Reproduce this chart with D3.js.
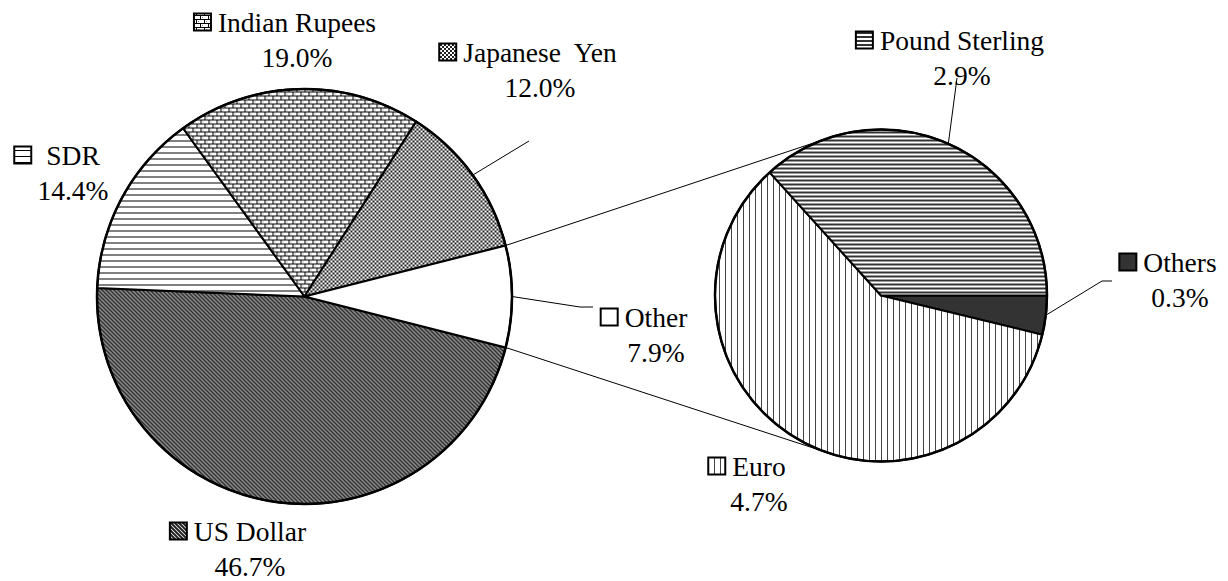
<!DOCTYPE html>
<html>
<head>
<meta charset="utf-8">
<script src="https://cdn.jsdelivr.net/npm/d3@7"></script>
<style>
  body { margin: 0; background: #fff; }
  text { font-size: 27.5px; white-space: pre; fill: #000; }
</style>
</head>
<body>
<svg id="chart" width="1228" height="581"></svg>
<script>
// main pie, listed clockwise starting after the "Other" slice
var mainNames = ["US Dollar", "SDR", "Indian Rupees", "Japanese  Yen", "Other"];
var mainShares = [46.7, 14.4, 19.0, 12.0, 7.9];
// split of "Other", clockwise from 3 o'clock
var subNames = ["Others", "Euro", "Pound Sterling"];
var subShares = [0.3, 4.7, 2.9];

var serif = "'Liberation Serif', 'Times New Roman', Tinos, 'DejaVu Serif', serif";

var svg = d3.select("#chart");
var defs = svg.append("defs");

function pattern(id, w, h, draw) {
  var p = defs.append("pattern").attr("id", id)
    .attr("patternUnits", "userSpaceOnUse")
    .attr("width", w).attr("height", h);
  p.append("rect").attr("width", w).attr("height", h).attr("fill", "#fff");
  draw(p);
}
pattern("usd", 4, 4, function(p) {
  p.append("path").attr("d", "M-1,-1L5,5M-1,3L1,5M3,-1L5,1")
    .attr("stroke", "#222").attr("stroke-width", 2);
});
pattern("sdr", 6, 6, function(p) {
  p.append("line").attr("x1", 0).attr("x2", 6).attr("y1", 0.5).attr("y2", 0.5)
    .attr("stroke", "#000").attr("stroke-width", 1);
});
pattern("inr", 8, 8, function(p) {
  p.append("path").attr("d", "M0,3.5H8M0,7.5H8M0.5,0V3.5M4.5,4V7.5")
    .attr("stroke", "#000").attr("stroke-width", 1).attr("fill", "none");
  p.append("rect").attr("x", 2).attr("y", 1).attr("width", 1).attr("height", 1).attr("fill", "#888");
  p.append("rect").attr("x", 6).attr("y", 5).attr("width", 1).attr("height", 1).attr("fill", "#888");
});
pattern("jpy", 4, 4, function(p) {
  p.append("rect").attr("x", 0).attr("y", 0).attr("width", 2).attr("height", 2).attr("fill", "#222");
  p.append("rect").attr("x", 2).attr("y", 2).attr("width", 2).attr("height", 2).attr("fill", "#222");
});
pattern("gbp", 4, 4, function(p) {
  p.append("rect").attr("x", 0).attr("y", 0).attr("width", 4).attr("height", 2).attr("fill", "#333");
});
pattern("eur", 6, 6, function(p) {
  p.append("rect").attr("x", 0).attr("y", 0).attr("width", 1).attr("height", 6).attr("fill", "#444");
});

var fills = {
  "US Dollar": "url(#usd)", "SDR": "url(#sdr)", "Indian Rupees": "url(#inr)",
  "Japanese  Yen": "url(#jpy)", "Other": "#fff",
  "Others": "#333", "Euro": "url(#eur)", "Pound Sterling": "url(#gbp)"
};

var main = {cx: 304.5, cy: 296.5, r: 207.5};
var sub = {cx: 881, cy: 295.5, r: 166};

// "Other" is centred on 3 o'clock
var otherShare = mainShares[4] / d3.sum(mainShares);
var mainStart = Math.PI / 2 + Math.PI * otherShare;
var mainPie = d3.pie().sort(null).value(function(d) { return d.v; })
  .startAngle(mainStart).endAngle(mainStart + 2 * Math.PI);
var subPie = d3.pie().sort(null).value(function(d) { return d.v; })
  .startAngle(Math.PI / 2).endAngle(Math.PI / 2 + 2 * Math.PI);

var mainArcs = mainPie(mainNames.map(function(n, i) { return {name: n, v: mainShares[i]}; }));
var subArcs = subPie(subNames.map(function(n, i) { return {name: n, v: subShares[i]}; }));

function onCircle(c, a) {
  return [c.cx + c.r * Math.sin(a), c.cy - c.r * Math.cos(a)];
}

function drawPie(c, arcs) {
  var arc = d3.arc().innerRadius(0).outerRadius(c.r);
  var g = svg.append("g").attr("transform", "translate(" + c.cx + "," + c.cy + ")");
  g.selectAll("path").data(arcs).enter().append("path")
    .attr("d", arc)
    .attr("fill", function(d) { return fills[d.data.name]; })
    .attr("stroke", "#000").attr("stroke-width", 2).attr("stroke-linejoin", "round");
  g.append("circle").attr("r", c.r).attr("fill", "none")
    .attr("stroke", "#000").attr("stroke-width", 2.5);
}
drawPie(main, mainArcs);
drawPie(sub, subArcs);

// connector lines: edges of "Other" to tangent points on the second pie
var otherArc = mainArcs[4];
function tangent(p, upper) {
  var vx = p[0] - sub.cx, vy = p[1] - sub.cy;
  var d = Math.sqrt(vx * vx + vy * vy);
  var phi = Math.atan2(vy, vx), al = Math.acos(sub.r / d);
  var t1 = [sub.cx + sub.r * Math.cos(phi + al), sub.cy + sub.r * Math.sin(phi + al)];
  var t2 = [sub.cx + sub.r * Math.cos(phi - al), sub.cy + sub.r * Math.sin(phi - al)];
  if (upper) return t1[1] < t2[1] ? t1 : t2;
  return t1[1] > t2[1] ? t1 : t2;
}
var pUp = onCircle(main, otherArc.startAngle);
var pDown = onCircle(main, otherArc.endAngle);
[[pUp, tangent(pUp, true)], [pDown, tangent(pDown, false)]].forEach(function(seg) {
  svg.append("line")
    .attr("x1", seg[0][0]).attr("y1", seg[0][1])
    .attr("x2", seg[1][0]).attr("y2", seg[1][1])
    .attr("stroke", "#000").attr("stroke-width", 1);
});

// label placement
var labelPos = {
  "Indian Rupees": {cx: 297, y: 32},
  "Japanese  Yen": {cx: 540, y: 62, leader: [[529, 141]]},
  "SDR": {cx: 73, y: 165, gap: 15},
  "Other": {cx: 656, y: 327, leader: [[580, 307], [593, 307]]},
  "US Dollar": {cx: 250, y: 541},
  "Pound Sterling": {cx: 962, y: 50, leader: [[957, 78]]},
  "Others": {cx: 1180, y: 272, leader: [[1102, 281], [1112, 281]]},
  "Euro": {cx: 759, y: 476}
};
var fmt = d3.format(".1f");

function drawLabels(c, arcs) {
  arcs.forEach(function(d) {
    var L = labelPos[d.data.name];
    if (L.leader) {
      var start = onCircle(c, (d.startAngle + d.endAngle) / 2);
      svg.append("path")
        .attr("d", d3.line()([start].concat(L.leader)))
        .attr("fill", "none").attr("stroke", "#000").attr("stroke-width", 1);
    }
    var t = svg.append("text").attr("x", L.cx).attr("y", L.y)
      .attr("font-family", serif)
      .attr("text-anchor", "middle").text(d.data.name);
    var w = t.node().getComputedTextLength();
    var gap = L.gap || 7, size = 17;
    svg.append("rect")
      .attr("x", L.cx - w / 2 - gap - size).attr("y", L.y - size - 1.5)
      .attr("width", size).attr("height", size)
      .attr("fill", fills[d.data.name])
      .attr("stroke", "#000").attr("stroke-width", 2);
    svg.append("text").attr("x", L.cx).attr("y", L.y + 35)
      .attr("font-family", serif)
      .attr("text-anchor", "middle").text(fmt(d.data.v) + "%");
  });
}
drawLabels(main, mainArcs);
drawLabels(sub, subArcs);
</script>
</body>
</html>
